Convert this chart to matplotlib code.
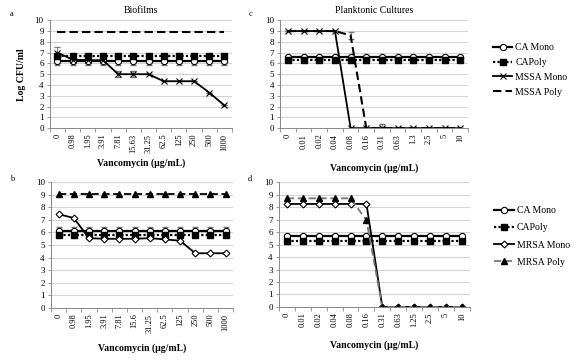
import matplotlib.pyplot as plt

plt.rcParams['font.family'] = ['Liberation Serif', 'DejaVu Serif']

# x categories (vancomycin, ug/mL)
conc_a = ['0', '0.98', '1.95', '3.91', '7.81', '15.63', '31.25', '62.5', '125', '250', '500', '1000']
conc_b = ['0', '0.98', '1.95', '3.91', '7.81', '15.6', '31.25', '62.5', '125', '250', '500', '1000']
conc_c = ['0', '0.01', '0.02', '0.04', '0.08', '0.16', '0.31', '0.63', '1.3', '2.5', '5', '10']
conc_d = ['0', '0.01', '0.02', '0.04', '0.08', '0.16', '0.31', '0.63', '1.25', '2.5', '5', '10']

# panel a - biofilms, MSSA
a_ca_mono = [6.2, 6.2, 6.2, 6.2, 6.2, 6.2, 6.2, 6.2, 6.2, 6.2, 6.2, 6.2]
a_ca_mono_err = [0.3, 0.3, 0.3, 0.3, 0.3, 0.3, 0.3, 0.3, 0.3, 0.3, 0.3, 0.3]
a_ca_poly = [6.65, 6.65, 6.65, 6.65, 6.65, 6.65, 6.65, 6.65, 6.65, 6.65, 6.65, 6.65]
a_mssa_mono = [7.0, 6.35, 6.3, 6.3, 5.0, 5.0, 5.0, 4.35, 4.35, 4.35, 3.3, 2.1]
a_mssa_mono_err = [0.5, 0, 0, 0, 0.3, 0.3, 0, 0, 0, 0, 0, 0]
a_mssa_poly = [8.9, 8.9, 8.9, 8.9, 8.9, 8.9, 8.9, 8.9, 8.9, 8.9, 8.9, 8.9]

# panel b - biofilms, MRSA
b_ca_mono = [6.1, 6.1, 6.1, 6.1, 6.1, 6.1, 6.1, 6.1, 6.1, 6.1, 6.1, 6.1]
b_ca_mono_err = [0.35, 0.35, 0.35, 0.35, 0.35, 0.35, 0.35, 0.35, 0.35, 0.35, 0.35, 0.35]
b_ca_poly = [5.8, 5.8, 5.8, 5.8, 5.8, 5.8, 5.8, 5.8, 5.8, 5.8, 5.8, 5.8]
b_mrsa_mono = [7.45, 7.15, 5.55, 5.5, 5.5, 5.5, 5.55, 5.45, 5.35, 4.35, 4.35, 4.35]
b_mrsa_poly = [9.05, 9.05, 9.05, 9.05, 9.05, 9.05, 9.05, 9.05, 9.05, 9.05, 9.05, 9.05]

# panel c - planktonic, MSSA
c_ca_mono = [6.6, 6.6, 6.6, 6.6, 6.6, 6.6, 6.6, 6.6, 6.6, 6.6, 6.6, 6.6]
c_ca_poly = [6.3, 6.3, 6.3, 6.3, 6.3, 6.3, 6.3, 6.3, 6.3, 6.3, 6.3, 6.3]
c_mssa_mono = [9.0, 9.0, 9.0, 9.0, 0, 0, 0, 0, 0, 0, 0, 0]
c_mssa_mono_err = [0, 0, 0, 0, 0, 0, 0.4, 0, 0, 0, 0, 0]
c_mssa_poly = [9.0, 9.0, 9.0, 9.0, 8.6, 0, 0, 0, 0, 0, 0, 0]
c_mssa_poly_err = [0, 0, 0, 0, 0.3, 0, 0, 0, 0, 0, 0, 0]

# panel d - planktonic, MRSA
d_ca_mono = [5.65, 5.65, 5.65, 5.65, 5.65, 5.65, 5.65, 5.65, 5.65, 5.65, 5.65, 5.65]
d_ca_poly = [5.3, 5.3, 5.3, 5.3, 5.3, 5.3, 5.3, 5.3, 5.3, 5.3, 5.3, 5.3]
d_mrsa_mono = [8.25, 8.25, 8.25, 8.25, 8.25, 8.25, 0, 0, 0, 0, 0, 0]
d_mrsa_poly = [8.7, 8.7, 8.7, 8.7, 8.7, 6.95, 0, 0, 0, 0, 0, 0]

fig = plt.figure(figsize=(5.8, 3.62), dpi=100)
ax_a = fig.add_axes([0.086, 0.646, 0.314, 0.298])
ax_c = fig.add_axes([0.483, 0.646, 0.324, 0.298])
ax_b = fig.add_axes([0.088, 0.149, 0.314, 0.348])
ax_d = fig.add_axes([0.481, 0.152, 0.329, 0.345])

ca_mono_style = dict(color='black', lw=1.6, marker='o', ms=4.5, mfc='white', mec='black', mew=0.8)
ca_poly_style = dict(color='black', lw=1.6, ls=(0, (1, 1)), marker='s', ms=4.5, mfc='black', mec='black')
x_mono_style = dict(color='black', lw=1.3, marker='x', ms=4.5, mew=0.8)
x_poly_style = dict(color='black', lw=1.5, ls=(0, (4, 2)))
r_mono_style = dict(color='black', lw=1.3, marker='D', ms=3.5, mfc='white', mec='black', mew=0.8)
r_poly_style = dict(color='black', lw=1.3, ls=(0, (4, 2)), marker='^', ms=4.5, mfc='black', mec='black')


def err(ax, x, y, e):
    ax.errorbar(x, y, yerr=e, fmt='none', ecolor='#777777', elinewidth=0.6, capsize=2, zorder=1.5)


def setup(ax, labels, lpad):
    n = len(labels)
    ax.set_xlim(-0.5, n - 0.5)
    ax.set_ylim(0, 10)
    ax.set_yticks(range(0, 11))
    ax.set_xticks(range(n))
    ax.set_xticklabels(labels, rotation=90, fontsize=6)
    ax.set_xticks([i - 0.5 for i in range(n + 1)], minor=True)
    ax.tick_params(axis='x', which='major', length=0, pad=4)
    ax.tick_params(axis='x', which='minor', length=3, color='#888888', width=0.6)
    ax.tick_params(axis='y', labelsize=6.5, length=2.5, color='#888888', width=0.6, pad=2)
    ax.grid(axis='y', color='#d4d4d4', lw=0.8)
    ax.set_axisbelow(True)
    for s in ['top', 'right']:
        ax.spines[s].set_visible(False)
    for s in ['left', 'bottom']:
        ax.spines[s].set_color('#888888')
        ax.spines[s].set_linewidth(0.7)
    ax.set_xlabel('Vancomycin (\u03bcg/mL)', fontsize=7, fontweight='bold', labelpad=lpad)


# panel a
xa = range(len(conc_a))
err(ax_a, xa, a_ca_mono, a_ca_mono_err)
err(ax_a, xa, a_mssa_mono, a_mssa_mono_err)
ax_a.plot(xa, a_ca_mono, **ca_mono_style, label='CA Mono')
ax_a.plot(xa, a_ca_poly, **ca_poly_style, label='CAPoly')
ax_a.plot(xa, a_mssa_mono, **x_mono_style, label='MSSA Mono')
ax_a.plot(xa, a_mssa_poly, **x_poly_style, label='MSSA Poly')
setup(ax_a, conc_a, 4)
ax_a.set_ylabel('Log CFU/ml', fontsize=7, fontweight='bold', labelpad=6)
ax_a.set_title('Biofilms', fontsize=7, pad=5)

# panel c
xc = range(len(conc_c))
err(ax_c, xc, c_mssa_mono, c_mssa_mono_err)
err(ax_c, xc, c_mssa_poly, c_mssa_poly_err)
ax_c.plot(xc, c_ca_mono, **ca_mono_style, label='CA Mono')
ax_c.plot(xc, c_ca_poly, **ca_poly_style, label='CAPoly')
ax_c.plot(xc, c_mssa_mono, **x_mono_style, label='MSSA Mono')
ax_c.plot(xc, c_mssa_poly, **x_poly_style, label='MSSA Poly')
setup(ax_c, conc_c, 11)
ax_c.set_title('Planktonic Cultures', fontsize=7, pad=5)

# panel b
xb = range(len(conc_b))
err(ax_b, xb, b_ca_mono, b_ca_mono_err)
ax_b.plot(xb, b_ca_mono, **ca_mono_style, label='CA Mono')
ax_b.plot(xb, b_ca_poly, **ca_poly_style, label='CAPoly')
ax_b.plot(xb, b_mrsa_mono, **r_mono_style, label='MRSA Mono')
ax_b.plot(xb, b_mrsa_poly, **r_poly_style, label='MRSA Poly')
setup(ax_b, conc_b, 8)

# panel d
xd = range(len(conc_d))
ax_d.plot(xd, d_ca_mono, **ca_mono_style, label='CA Mono')
ax_d.plot(xd, d_ca_poly, **ca_poly_style, label='CAPoly')
ax_d.plot(xd, d_mrsa_mono, **r_mono_style, label='MRSA Mono')
d_poly = dict(r_poly_style, color='#777777')
ax_d.plot(xd, d_mrsa_poly, **d_poly, label='MRSA Poly')
setup(ax_d, conc_d, 9)

# legends
h, l = ax_c.get_legend_handles_labels()
fig.legend(h, l, loc='upper left', bbox_to_anchor=(0.835, 0.905), frameon=False, fontsize=7,
           handlelength=2.0, handletextpad=0.3, labelspacing=0.6)
h, l = ax_d.get_legend_handles_labels()
fig.legend(h, l, loc='upper left', bbox_to_anchor=(0.837, 0.455), frameon=False, fontsize=7,
           handlelength=2.0, handletextpad=0.3, labelspacing=0.85)

# panel letters
fig.text(0.017, 0.955, 'a', fontsize=6)
fig.text(0.017, 0.5, 'b', fontsize=6)
fig.text(0.428, 0.955, 'c', fontsize=6)
fig.text(0.428, 0.5, 'd', fontsize=6)

fig.savefig('out.png', dpi=100)
